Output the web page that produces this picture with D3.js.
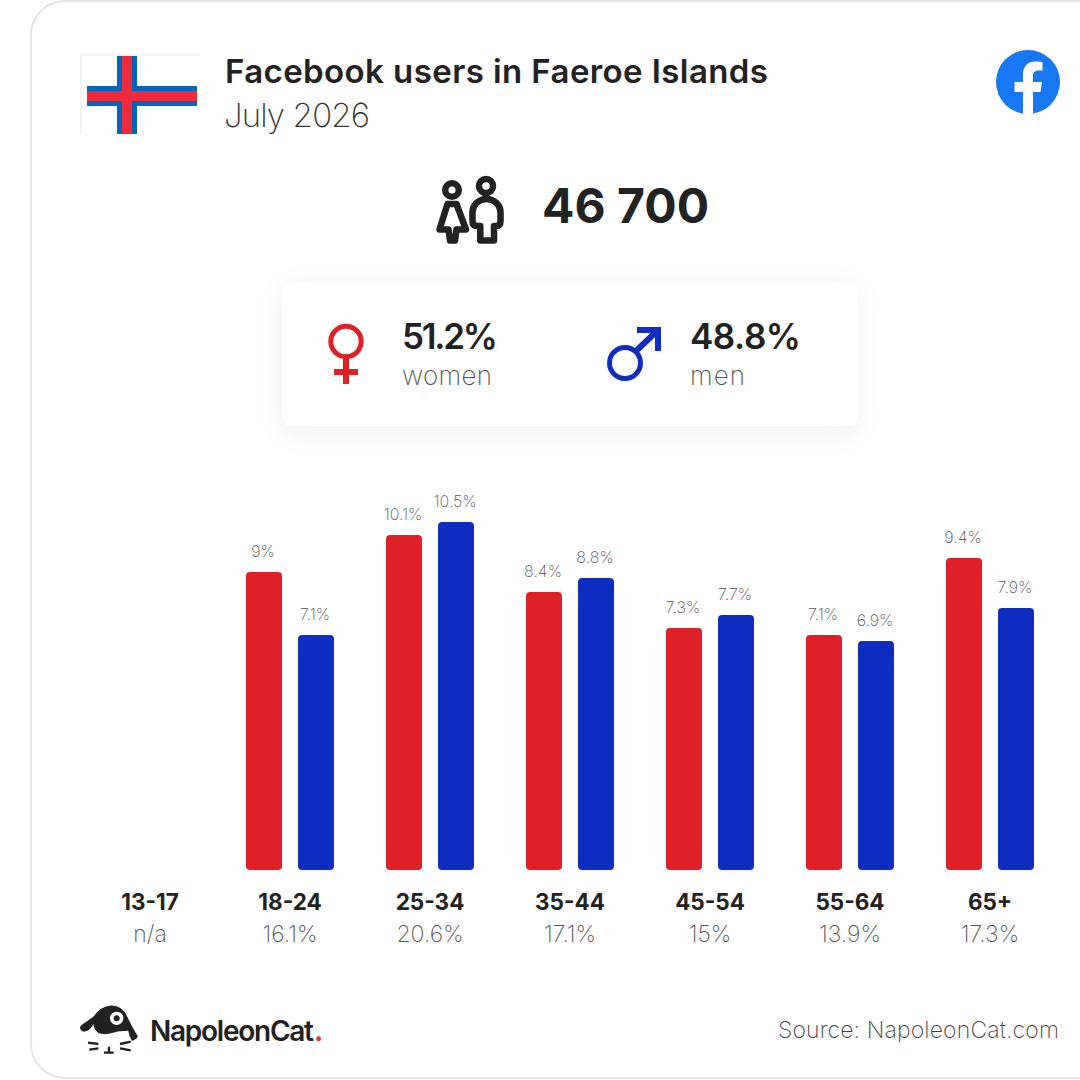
<!DOCTYPE html>
<html>
<head>
<meta charset="utf-8">
<script src="https://cdn.jsdelivr.net/npm/d3@7"></script>
<style>
  html, body { margin: 0; padding: 0; background: #fff; }
  svg { display: block; }
  text { font-family: Inter, "Noto Sans", sans-serif; }
  .axis .domain, .axis line { display: none; }
</style>
</head>
<body>
<svg id="chart" width="1080" height="1080"></svg>
<script>
// values
const ageGroups = ['13-17', '18-24', '25-34', '35-44', '45-54', '55-64', '65+'];
const ageShares = ['n/a', '16.1%', '20.6%', '17.1%', '15%', '13.9%', '17.3%'];
const womenPct = [null, 9, 10.1, 8.4, 7.3, 7.1, 9.4];
const menPct = [null, 7.1, 10.5, 8.8, 7.7, 6.9, 7.9];
const genders = ['women', 'men'];
const genderColors = ['#df2027', '#0f2dc0'];

const DARK = '#222222';

const svg = d3.select('#chart');

const defs = svg.append('defs');
const shadow = defs.append('filter').attr('id', 'soft')
  .attr('x', '-15%').attr('y', '-30%').attr('width', '130%').attr('height', '160%');
shadow.append('feDropShadow')
  .attr('dx', 0).attr('dy', 6).attr('stdDeviation', 13)
  .attr('flood-color', '#000').attr('flood-opacity', 0.06);

// helper, keeps the wide look of the original face with what's installed
function label(parent, x, y, str, size, weight, fill, width, anchor) {
  const t = parent.append('text')
    .attr('x', x).attr('y', y)
    .attr('font-size', size).attr('font-weight', weight)
    .attr('fill', fill)
    .attr('text-anchor', anchor || 'start')
    .text(str);
  if (width) t.attr('textLength', width).attr('lengthAdjust', 'spacing');
  return t;
}

///////////////// card /////////////////
svg.append('rect')
  .attr('x', 31).attr('y', 1).attr('width', 1100).attr('height', 1077)
  .attr('rx', 34)
  .attr('fill', '#fff').attr('stroke', '#e4e4e4').attr('stroke-width', 2);

///////////////// flag /////////////////
const flag = svg.append('g');
flag.append('path').attr('d', 'M81 134V55H200').attr('fill', 'none').attr('stroke', '#f4f4f4').attr('stroke-width', 2);
flag.append('rect').attr('x', 87).attr('y', 86).attr('width', 110).attr('height', 20).attr('fill', '#0065bd');
flag.append('rect').attr('x', 117).attr('y', 56).attr('width', 20).attr('height', 78).attr('fill', '#0065bd');
flag.append('rect').attr('x', 87).attr('y', 91).attr('width', 110).attr('height', 10).attr('fill', '#ef2b3c');
flag.append('rect').attr('x', 122).attr('y', 56).attr('width', 10).attr('height', 78).attr('fill', '#ef2b3c');

///////////////// heading /////////////////
label(svg, 225, 82.500, 'Facebook users in Faeroe Islands', 33, 600, DARK, 543);
label(svg, 224, 126.500, 'July 2026', 33, 200, '#333', 146);

// facebook mark
const fb = svg.append('g');
fb.append('circle').attr('cx', 1028).attr('cy', 82).attr('r', 32).attr('fill', '#1877f2');
fb.append('path')
  .attr('d', 'M1023 114V92H1014.500V82H1023V74.500C1023 66 1028 61.500 1035.500 61.500C1039 61.500 1042.500 62 1042.500 62V70.500H1038.500C1034.500 70.500 1033 73 1033 75.500V82H1042L1040.500 92H1033V114Z')
  .attr('fill', '#fff');

///////////////// total users /////////////////
const people = svg.append('g')
  .attr('fill', 'none').attr('stroke', DARK).attr('stroke-width', 6.5)
  .attr('stroke-linejoin', 'round');
people.append('circle').attr('cx', 452).attr('cy', 190).attr('r', 6.8);
people.append('circle').attr('cx', 486).attr('cy', 186).attr('r', 7);
people.append('path').attr('d', 'M447.500 204H456.500L466 229.500H456.500L455 240.500H450L448.500 229.500H439.500Z');
people.append('path').attr('d', 'M480.300 226H477Q472.500 226 472.500 221V212A14 13 0 0 1 500.500 212V221Q500.500 226 496 226H494V240.500H480.300Z');

label(svg, 542, 222.500, '46 700', 48, 700, DARK, 167);

///////////////// gender box /////////////////
svg.append('rect')
  .attr('x', 282).attr('y', 282).attr('width', 576).attr('height', 144)
  .attr('rx', 9).attr('fill', '#fff').attr('filter', 'url(#soft)');

const female = svg.append('g').attr('stroke', genderColors[0]).attr('fill', 'none');
female.append('circle').attr('cx', 346).attr('cy', 341.500).attr('r', 15.200).attr('stroke-width', 5);
female.append('path').attr('d', 'M346 358V384').attr('stroke-width', 6);
female.append('path').attr('d', 'M334 372H358').attr('stroke-width', 6);

const male = svg.append('g').attr('stroke', genderColors[1]).attr('fill', 'none');
male.append('circle').attr('cx', 625).attr('cy', 363).attr('r', 15.500).attr('stroke-width', 5);
male.append('path').attr('d', 'M636 351L657 331').attr('stroke-width', 6);
male.append('path').attr('d', 'M637 330H658V351').attr('stroke-width', 6);

label(svg, 402, 348.500, '51.2%', 35, 600, DARK, 96);
label(svg, 402, 385, 'women', 26, 200, '#555', 90);
label(svg, 690, 348.500, '48.8%', 35, 600, DARK, 111);
label(svg, 690, 385, 'men', 26, 200, '#555', 55);

///////////////// bars /////////////////
const x = d3.scaleBand().domain(ageGroups).range([80, 1060]);
const xGender = d3.scaleBand().domain(genders).range([0, 88]).paddingInner(16 / 52);
const y = d3.scaleLinear().domain([0, 10.5]).rangeRound([870, 522]);

const rows = ageGroups.map((age, i) => ({
  age,
  values: [
    { gender: 'women', pct: womenPct[i] },
    { gender: 'men', pct: menPct[i] }
  ].filter(d => d.pct !== null)
}));

const groups = svg.selectAll('.age')
  .data(rows)
  .enter()
  .append('g')
  .classed('age', true)
  .attr('transform', d => `translate(${x(d.age) + x.bandwidth() / 2 - 44},0)`);

groups.selectAll('rect')
  .data(d => d.values)
  .enter()
  .append('rect')
  .attr('x', d => xGender(d.gender))
  .attr('y', d => y(d.pct))
  .attr('width', xGender.bandwidth())
  .attr('height', d => y(0) - y(d.pct))
  .attr('rx', 4)
  .attr('fill', d => genderColors[genders.indexOf(d.gender)]);

groups.selectAll('text')
  .data(d => d.values)
  .enter()
  .append('text')
  .attr('x', d => xGender(d.gender) + xGender.bandwidth() / 2 - 1)
  .attr('y', d => y(d.pct) - 15)
  .attr('text-anchor', 'middle')
  .attr('font-size', 16)
  .attr('font-weight', 200)
  .attr('fill', '#555')
  .text(d => d.pct + '%');

///////////////// age labels /////////////////
const axis = svg.append('g')
  .classed('axis', true)
  .attr('transform', 'translate(0,870)')
  .call(d3.axisBottom(x).tickSize(0).tickPadding(0));
axis.selectAll('text')
  .attr('y', 40).attr('dy', 0)
  .attr('font-size', 22.500).attr('font-weight', 700).attr('fill', DARK);

svg.selectAll('.share')
  .data(ageGroups)
  .enter()
  .append('text')
  .classed('share', true)
  .attr('x', d => x(d) + x.bandwidth() / 2)
  .attr('y', 942)
  .attr('text-anchor', 'middle')
  .attr('font-size', 23)
  .attr('font-weight', 200)
  .attr('fill', '#555')
  .text((d, i) => ageShares[i]);

///////////////// footer /////////////////
const cat = svg.append('g').attr('transform', 'translate(60,990) scale(0.3333)');
cat.append('path')
  .attr('d', 'M60 112Q62 106 72 100L100 80Q120 50 150 47Q185 44 202 80Q214 108 233 138Q234 146 216 153Q206 136 205 122Q172 122 165 127Q140 136 116 130Q102 118 100 102Q90 124 72 125Q60 122 60 112Z')
  .attr('fill', DARK);
cat.append('circle').attr('cx', 170).attr('cy', 85).attr('r', 20).attr('fill', '#fff');
cat.append('circle').attr('cx', 170).attr('cy', 85).attr('r', 9).attr('fill', DARK);
cat.append('path')
  .attr('d', 'M84 158L115 162M88 179L115 175M180 162L212 155M180 175L212 181M147 170V188M132 188H161')
  .attr('stroke', DARK).attr('stroke-width', 7).attr('fill', 'none');

label(svg, 150, 1041, 'NapoleonCat', 28, 600, DARK, 164);
label(svg, 314, 1041, '.', 28, 700, '#ef2b3c');

label(svg, 1059, 1038, 'Source: NapoleonCat.com', 23, 200, '#444', 281, 'end');
</script>
</body>
</html>
